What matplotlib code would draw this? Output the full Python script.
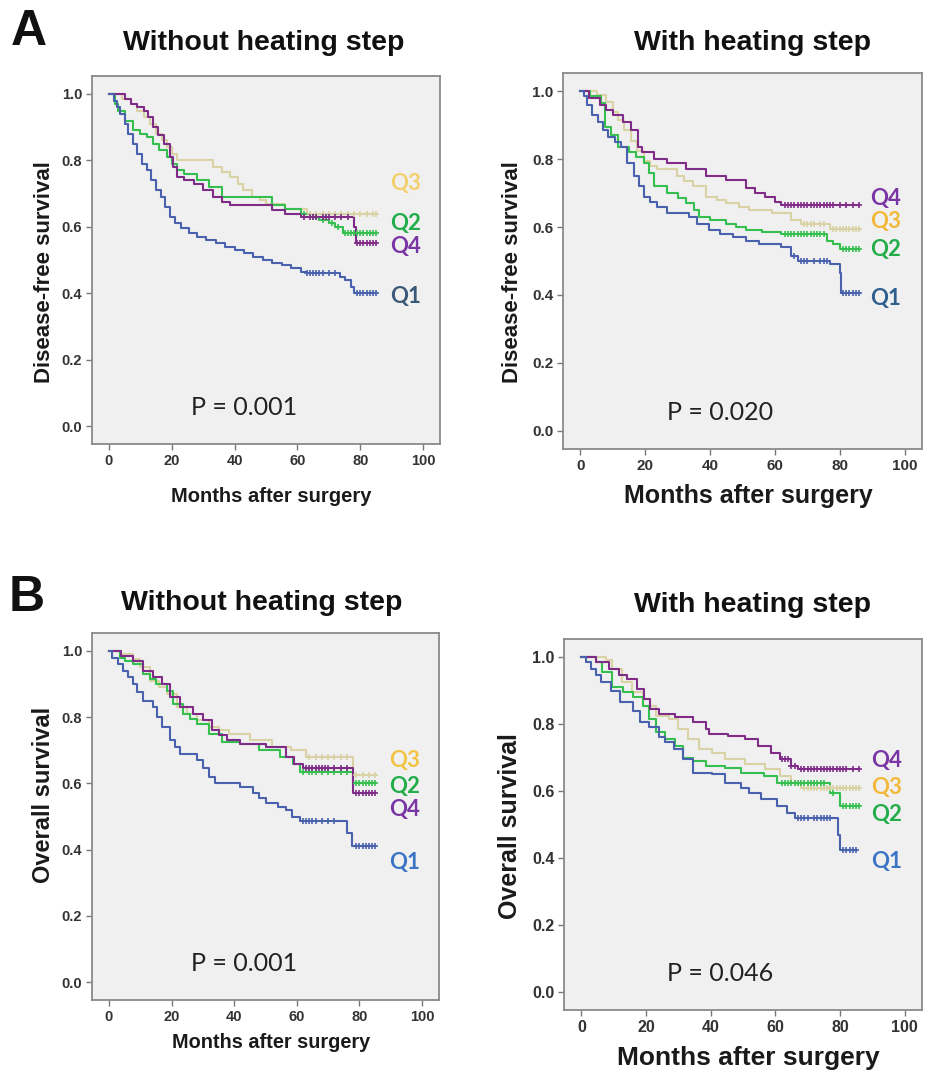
import numpy as np
import matplotlib
matplotlib.use("Agg")
import matplotlib.pyplot as plt

# ---------------- data ----------------
# Panel A (disease-free survival), without heating step
a_wo_q1_t = [0, 1.5, 2.5, 3.5, 5, 6, 7.5, 9, 10.5, 12, 13.5, 15, 16.5, 18, 19.5, 21, 23, 25.5, 28, 31, 34, 37, 40, 43, 46, 49, 52, 55, 58, 61, 63, 73.5, 75, 77, 78]
a_wo_q1_s = [1.0, 0.98, 0.96, 0.94, 0.91, 0.88, 0.85, 0.82, 0.79, 0.77, 0.74, 0.71, 0.69, 0.66, 0.63, 0.61, 0.595, 0.58, 0.57, 0.56, 0.55, 0.54, 0.53, 0.52, 0.51, 0.50, 0.49, 0.485, 0.475, 0.465, 0.46, 0.45, 0.44, 0.42, 0.40]
a_wo_q1_c = [63, 64, 65, 66, 67, 68, 70, 72, 79, 80, 81, 82, 83, 84, 85]
a_wo_q2_t = [0, 2, 3, 5, 7.5, 10, 12, 14, 16, 18.5, 20, 21.6, 24, 28, 32, 36, 52, 56, 61, 64, 67, 70, 72, 74.5]
a_wo_q2_s = [1.0, 0.97, 0.95, 0.92, 0.89, 0.88, 0.87, 0.85, 0.83, 0.81, 0.79, 0.77, 0.76, 0.74, 0.72, 0.69, 0.665, 0.655, 0.64, 0.63, 0.62, 0.61, 0.60, 0.58]
a_wo_q2_c = [62, 65, 66, 68, 71, 73, 75, 76, 77, 78, 79, 80, 81, 82, 83, 84, 85]
a_wo_q3_t = [0, 4, 7, 9, 11, 13, 15, 17, 18.5, 20, 21.6, 33, 36, 38.5, 41, 42.7, 45.7, 48, 50, 56, 63]
a_wo_q3_s = [1.0, 0.985, 0.97, 0.95, 0.93, 0.91, 0.88, 0.86, 0.84, 0.82, 0.80, 0.78, 0.765, 0.75, 0.73, 0.71, 0.69, 0.68, 0.67, 0.655, 0.64]
a_wo_q3_c = [64, 66, 68, 70, 72, 74, 76, 78, 80, 82, 84, 85]
a_wo_q4_t = [0, 5, 7, 9, 11, 12.5, 14, 15.5, 17.5, 19.5, 20.5, 21.6, 24, 27, 30, 33, 36, 38.5, 52, 56, 61, 78, 78.5]
a_wo_q4_s = [1.0, 0.985, 0.97, 0.96, 0.95, 0.93, 0.90, 0.875, 0.85, 0.81, 0.78, 0.75, 0.74, 0.73, 0.71, 0.69, 0.675, 0.665, 0.65, 0.64, 0.63, 0.60, 0.55]
a_wo_q4_c = [62, 64, 65, 66, 68, 69, 70, 72, 74, 76, 79, 80, 81, 82, 83, 84, 85]

# Panel A, with heating step
a_w_q1_t = [0, 1, 2, 3.5, 5.5, 7, 8.5, 10.5, 12.5, 14.5, 16.6, 18, 19.6, 21.5, 23.6, 26.7, 33.6, 36, 39.7, 43, 47, 51, 55, 62, 65, 67, 77, 80, 80.5]
a_w_q1_s = [1.0, 0.985, 0.96, 0.93, 0.91, 0.885, 0.865, 0.85, 0.835, 0.79, 0.75, 0.72, 0.69, 0.675, 0.66, 0.64, 0.63, 0.61, 0.59, 0.58, 0.57, 0.56, 0.55, 0.54, 0.515, 0.50, 0.49, 0.465, 0.405]
a_w_q1_c = [66, 68, 69, 70, 72, 74, 75, 76, 81, 82, 83, 84, 85, 86]
a_w_q2_t = [0, 3, 6.4, 7.5, 9.5, 11.5, 15, 17, 19.6, 21, 22.7, 26.7, 30, 32.7, 35, 36.7, 40, 44.8, 48, 51, 56, 62, 76, 78, 80]
a_w_q2_s = [1.0, 0.985, 0.965, 0.895, 0.87, 0.835, 0.82, 0.805, 0.79, 0.76, 0.72, 0.70, 0.685, 0.67, 0.65, 0.63, 0.62, 0.61, 0.60, 0.59, 0.585, 0.58, 0.56, 0.55, 0.535]
a_w_q2_c = [63, 64, 65, 66, 67, 68, 69, 70, 71, 72, 73, 74, 75, 81, 82, 83, 84, 85, 86]
a_w_q3_t = [0, 5, 8, 10, 11.5, 13.5, 15.5, 17.5, 19.6, 21.5, 23.6, 29.7, 32, 34.8, 38.8, 42, 45, 49, 52, 59, 65, 68, 77]
a_w_q3_s = [1.0, 0.99, 0.97, 0.94, 0.915, 0.885, 0.855, 0.825, 0.795, 0.78, 0.77, 0.75, 0.735, 0.72, 0.69, 0.68, 0.67, 0.66, 0.65, 0.64, 0.62, 0.61, 0.595]
a_w_q3_c = [69, 70, 71, 72, 74, 75, 78, 79, 80, 81, 82, 83, 84, 85, 86]
a_w_q4_t = [0, 2.5, 6, 8, 10, 13, 15.5, 17.6, 19, 22.7, 26.7, 32.7, 38.8, 44.8, 51, 54, 57, 60, 62]
a_w_q4_s = [1.0, 0.98, 0.96, 0.945, 0.93, 0.91, 0.885, 0.835, 0.82, 0.80, 0.79, 0.77, 0.75, 0.74, 0.715, 0.70, 0.69, 0.675, 0.665]
a_w_q4_c = [63, 64, 65, 66, 67, 68, 69, 70, 71, 72, 73, 74, 75, 76, 77, 78, 80, 82, 84, 86]

# Panel B (overall survival), without heating step
b_wo_q1_t = [0, 1, 3, 4.5, 6, 7.6, 9, 11, 14, 15.5, 17, 19.4, 21, 22.6, 28, 30, 32, 34, 41.7, 46, 48, 50, 54, 56.7, 58.5, 61, 76, 77.5]
b_wo_q1_s = [1.0, 0.98, 0.96, 0.94, 0.92, 0.90, 0.875, 0.85, 0.83, 0.80, 0.77, 0.73, 0.71, 0.69, 0.67, 0.645, 0.62, 0.60, 0.59, 0.57, 0.555, 0.54, 0.53, 0.52, 0.50, 0.485, 0.45, 0.41]
b_wo_q1_c = [62, 63, 64, 65, 66, 68, 70, 72, 79, 80, 81, 82, 83, 84, 85]
b_wo_q2_t = [0, 3.4, 5, 7.6, 11, 13, 15, 18.5, 20.5, 23.6, 26, 28, 32, 36, 42, 48, 54.5, 58.7, 61, 78]
b_wo_q2_s = [1.0, 0.98, 0.97, 0.96, 0.93, 0.915, 0.90, 0.88, 0.84, 0.81, 0.795, 0.78, 0.75, 0.725, 0.72, 0.70, 0.68, 0.66, 0.635, 0.60]
b_wo_q2_c = [62, 64, 65, 66, 68, 70, 72, 74, 76, 79, 80, 81, 82, 83, 84, 85]
b_wo_q3_t = [0, 4, 7.6, 10, 13, 16, 18.5, 21.6, 25, 28, 32, 35, 38.5, 45, 52, 58, 63, 78]
b_wo_q3_s = [1.0, 0.99, 0.975, 0.95, 0.91, 0.89, 0.87, 0.83, 0.81, 0.79, 0.77, 0.76, 0.75, 0.73, 0.71, 0.70, 0.68, 0.625]
b_wo_q3_c = [64, 66, 68, 70, 72, 74, 76, 79, 81, 83, 85]
b_wo_q4_t = [0, 4, 7.6, 11, 14, 17, 19.4, 22.6, 27, 30, 33, 35, 37.6, 42, 50, 56.7, 59, 62, 78]
b_wo_q4_s = [1.0, 0.985, 0.97, 0.94, 0.92, 0.90, 0.86, 0.83, 0.81, 0.79, 0.76, 0.745, 0.73, 0.72, 0.71, 0.68, 0.66, 0.645, 0.57]
b_wo_q4_c = [63, 64, 65, 66, 67, 68, 69, 70, 72, 74, 76, 79, 80, 81, 82, 83, 84, 85]

# Panel B, with heating step
b_w_q1_t = [0, 1.5, 3, 4.5, 6, 9, 12, 16, 18, 21, 24, 26, 28.5, 31.5, 34.5, 40.5, 44.5, 49.5, 52, 55.7, 60.6, 63.6, 66, 79.5, 80]
b_w_q1_s = [1.0, 0.985, 0.965, 0.945, 0.925, 0.90, 0.865, 0.84, 0.805, 0.79, 0.76, 0.745, 0.725, 0.695, 0.655, 0.65, 0.625, 0.61, 0.595, 0.575, 0.555, 0.535, 0.52, 0.47, 0.425]
b_w_q1_c = [67, 68, 69, 70, 72, 73, 74, 75, 76, 77, 81, 82, 83, 84, 85]
b_w_q2_t = [0, 4.5, 6.5, 9.5, 13, 16, 19, 21, 23, 26, 29, 31.5, 34.5, 38.5, 44.5, 49.5, 56.5, 60.6, 77, 80]
b_w_q2_s = [1.0, 0.985, 0.955, 0.91, 0.895, 0.88, 0.855, 0.815, 0.775, 0.755, 0.735, 0.70, 0.69, 0.675, 0.67, 0.655, 0.645, 0.625, 0.595, 0.555]
b_w_q2_c = [62, 63, 64, 65, 66, 67, 68, 69, 70, 71, 72, 73, 74, 75, 78, 81, 82, 83, 84, 85, 86]
b_w_q3_t = [0, 7.5, 9.5, 12.6, 15.7, 19, 23, 27, 30, 33, 36.5, 40.5, 44.5, 50.5, 56.7, 61.6, 65, 68]
b_w_q3_s = [1.0, 0.99, 0.965, 0.925, 0.895, 0.855, 0.825, 0.815, 0.785, 0.755, 0.725, 0.715, 0.695, 0.68, 0.665, 0.645, 0.625, 0.61]
b_w_q3_c = [66, 67, 69, 70, 71, 72, 73, 74, 75, 76, 77, 78, 79, 80, 81, 82, 83, 84, 85, 86]
b_w_q4_t = [0, 4.5, 8.5, 11.6, 14, 17.3, 19.3, 21.3, 24, 29, 34.5, 38.5, 39.5, 45.5, 50.6, 54.7, 58.6, 61.6, 65, 67]
b_w_q4_s = [1.0, 0.985, 0.965, 0.945, 0.935, 0.905, 0.875, 0.845, 0.83, 0.82, 0.805, 0.785, 0.77, 0.765, 0.755, 0.735, 0.715, 0.695, 0.675, 0.665]
b_w_q4_c = [62, 63, 64, 65, 66, 68, 69, 70, 71, 72, 73, 74, 75, 76, 77, 78, 79, 80, 81, 82, 84, 86]

groups = ["Q1", "Q2", "Q3", "Q4"]
panel_titles = ["Without heating step", "With heating step"]
y_titles = ["Disease-free survival", "Overall survival"]
x_title = "Months after surgery"
p_values = ["P = 0.001", "P = 0.020", "P = 0.001", "P = 0.046"]
x_ticks = [0, 20, 40, 60, 80, 100]
y_ticks = [0.0, 0.2, 0.4, 0.6, 0.8, 1.0]

# label placements (survival level of each Q label) per panel
label_y = [
    {"Q3": 0.73, "Q2": 0.61, "Q4": 0.54, "Q1": 0.39},
    {"Q4": 0.685, "Q3": 0.615, "Q2": 0.535, "Q1": 0.39},
    {"Q3": 0.67, "Q2": 0.59, "Q4": 0.52, "Q1": 0.36},
    {"Q4": 0.69, "Q3": 0.61, "Q2": 0.53, "Q1": 0.39},
]

curves = [
    {"Q1": (a_wo_q1_t, a_wo_q1_s, a_wo_q1_c), "Q2": (a_wo_q2_t, a_wo_q2_s, a_wo_q2_c),
     "Q3": (a_wo_q3_t, a_wo_q3_s, a_wo_q3_c), "Q4": (a_wo_q4_t, a_wo_q4_s, a_wo_q4_c)},
    {"Q1": (a_w_q1_t, a_w_q1_s, a_w_q1_c), "Q2": (a_w_q2_t, a_w_q2_s, a_w_q2_c),
     "Q3": (a_w_q3_t, a_w_q3_s, a_w_q3_c), "Q4": (a_w_q4_t, a_w_q4_s, a_w_q4_c)},
    {"Q1": (b_wo_q1_t, b_wo_q1_s, b_wo_q1_c), "Q2": (b_wo_q2_t, b_wo_q2_s, b_wo_q2_c),
     "Q3": (b_wo_q3_t, b_wo_q3_s, b_wo_q3_c), "Q4": (b_wo_q4_t, b_wo_q4_s, b_wo_q4_c)},
    {"Q1": (b_w_q1_t, b_w_q1_s, b_w_q1_c), "Q2": (b_w_q2_t, b_w_q2_s, b_w_q2_c),
     "Q3": (b_w_q3_t, b_w_q3_s, b_w_q3_c), "Q4": (b_w_q4_t, b_w_q4_s, b_w_q4_c)},
]

# ---------------- style ----------------
line_colors = {"Q1": "#4a62ae", "Q2": "#35bf4f", "Q3": "#d9d2a4", "Q4": "#7e2c88"}
label_colors_list = [
    {"Q1": "#3a5878", "Q2": "#22ad4a", "Q3": "#f3cf6e", "Q4": "#7a35a5"},
    {"Q1": "#2e5f8e", "Q2": "#22ad4a", "Q3": "#f2b83a", "Q4": "#7a35a5"},
    {"Q1": "#3b74c4", "Q2": "#22ad4a", "Q3": "#f2c443", "Q4": "#7a35a5"},
    {"Q1": "#3b74c4", "Q2": "#22ad4a", "Q3": "#f2b83a", "Q4": "#7a35a5"},
]

W, H = 939, 1075
fig = plt.figure(figsize=(W / 100, H / 100), dpi=100)
fig.patch.set_facecolor("white")

# axes boxes in pixels: left, right, top, bottom
boxes = [(92, 440, 76, 444), (563, 922, 73, 449), (92, 439, 633, 1000), (564, 922, 639, 1010)]
xlab_size = [14.5, 18, 14.3, 19]
ylab_size = [16, 16, 17, 18]
tick_size = [10.5, 11, 10.5, 11.5]
ylab_x = [45, 513, 44, 510]
ylab_y = [272, 272, 795, 826]
xlab_y = [496, 496, 1043, 1058]

XL = (-5.4, 105.4)
YL = (-0.054, 1.054)

for i, (l, r, t, b) in enumerate(boxes):
    ax = fig.add_axes([l / W, 1 - b / H, (r - l) / W, (b - t) / H])
    ax.set_facecolor("#f0f0f0")
    for sp in ax.spines.values():
        sp.set_color("#8a8a8a")
        sp.set_linewidth(1.3)
    ax.set_xlim(*XL)
    ax.set_ylim(*YL)
    ax.set_xticks(x_ticks)
    ax.set_yticks(y_ticks)
    ax.set_xticklabels([str(v) for v in x_ticks])
    ax.set_yticklabels([f"{v:.1f}" for v in y_ticks])
    ax.tick_params(length=4, width=1, color="#777777", labelcolor="#333333",
                   labelsize=tick_size[i], pad=3)
    for lab in ax.get_xticklabels() + ax.get_yticklabels():
        lab.set_fontweight("bold")
        lab.set_family("Liberation Sans")

    for g in ["Q3", "Q2", "Q4", "Q1"]:
        tt, ss, cc = curves[i][g]
        tt = np.asarray(tt, float)
        ss = np.asarray(ss, float)
        end = max(cc)
        xs = np.append(tt, end)
        ys = np.append(ss, ss[-1])
        ax.step(xs, ys, where="post", color=line_colors[g], lw=1.5, zorder=3)
        idx = np.searchsorted(tt, np.asarray(cc, float), side="right") - 1
        ax.plot(cc, ss[idx], linestyle="none", marker="|", ms=5, mew=1.2,
                color=line_colors[g], zorder=4)
        ax.plot(cc, ss[idx], linestyle="none", marker="_", ms=4, mew=1.2,
                color=line_colors[g], zorder=4)

    for g, yv in label_y[i].items():
        ax.text(89.5, yv, g, color=label_colors_list[i][g], fontsize=16,
                fontweight="bold", family="Lato", va="center", ha="left", zorder=5)

    ax.text(43, 0.055, p_values[i], fontsize=18, family="Lato", color="#222222",
            ha="center", va="center")

    # axis labels
    fig.text(ylab_x[i] / W, 1 - ylab_y[i] / H, y_titles[i // 2], rotation=90,
             fontsize=ylab_size[i], fontweight="bold", family="Liberation Sans",
             color="#1a1a1a", ha="center", va="center")
    fig.text((l + r) / 2 / W + 0.006, 1 - xlab_y[i] / H, x_title, fontsize=xlab_size[i],
             fontweight="bold", family="Liberation Sans", color="#1a1a1a",
             ha="center", va="center")

# titles
title_pos = [(264, 43), (752, 43), (262, 603), (752, 605)]
for i, (x, y) in enumerate(title_pos):
    fig.text(x / W, 1 - y / H, panel_titles[i % 2], fontsize=20.5, fontweight="bold",
             family="Liberation Sans", color="#111111", ha="center", va="center")

fig.text(29 / W, 1 - 32 / H, "A", fontsize=36, fontweight="bold", family="Liberation Sans",
         ha="center", va="center", color="#111111")
fig.text(27 / W, 1 - 598 / H, "B", fontsize=36, fontweight="bold", family="Liberation Sans",
         ha="center", va="center", color="#111111")

fig.savefig("out.png", dpi=100, facecolor="white")
